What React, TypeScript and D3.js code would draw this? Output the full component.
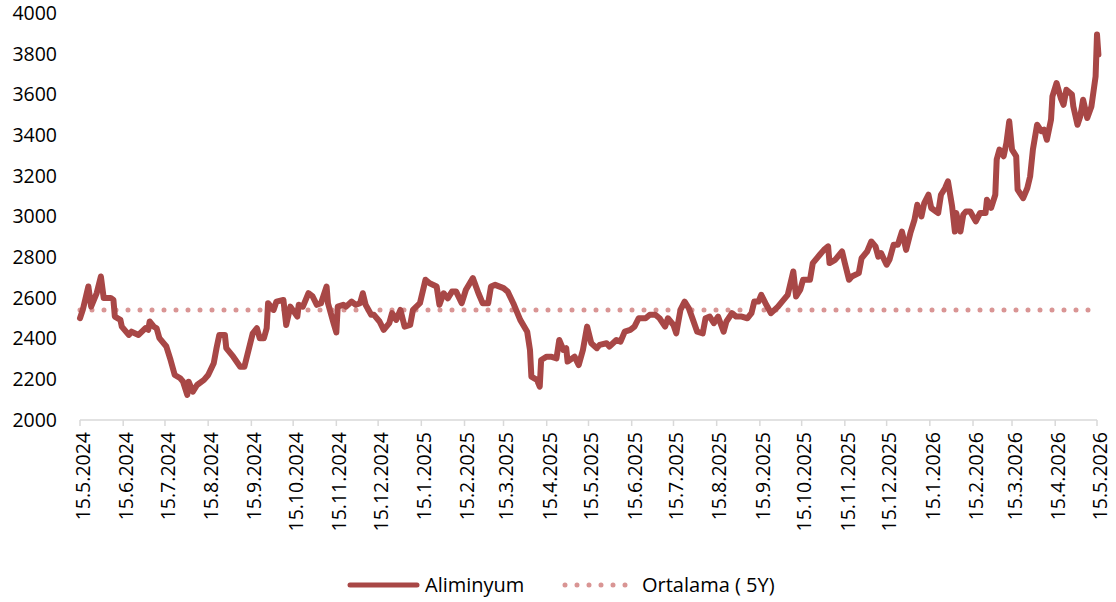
import React from "react";
import * as d3 from "d3";

const START = new Date(2024, 4, 15);
const END = new Date(2026, 4, 15);

// days since 15.5.2024
const dayOffsets = [
  0, 2, 6, 8, 12, 15, 17, 22, 24, 25, 29, 30, 35, 37, 42, 47, 49, 50, 53, 55, 57, 62, 65, 68, 72, 74, 77, 78, 81, 84,
  89, 92, 96, 98, 100, 104, 105, 110, 115, 118, 121, 124, 127, 129, 132, 134, 135, 139, 141, 146, 148, 151, 156, 157,
  160, 164, 167, 170, 173, 177, 178, 182, 184, 185, 189, 191, 195, 198, 201, 203, 205, 209, 211, 215, 218, 222, 224,
  227, 230, 233, 237, 239, 244, 248, 251, 256, 258, 261, 264, 267, 270, 274, 277, 282, 286, 289, 293, 295, 298, 304,
  307, 311, 316, 321, 323, 324, 328, 330, 331, 335, 338, 342, 344, 347, 349, 350, 355, 358, 361, 364, 367, 371, 373,
  378, 380, 385, 388, 391, 395, 398, 401, 406, 409, 413, 416, 420, 422, 426, 428, 431, 434, 437, 440, 443, 447, 449,
  452, 455, 458, 462, 464, 468, 471, 475, 479, 482, 484, 487, 489, 492, 496, 501, 505, 508, 512, 514, 517, 519, 524,
  526, 531, 534, 537, 538, 542, 547, 549, 552, 554, 559, 561, 565, 568, 571, 573, 575, 579, 581, 584, 587, 590, 593,
  596, 599, 601, 604, 606, 609, 611, 616, 618, 621, 623, 626, 628, 629, 632, 634, 636, 639, 643, 646, 650, 651, 654,
  657, 658, 660, 663, 665, 667, 669, 672, 673, 677, 680, 682, 684, 687, 690, 692, 694, 697, 698, 701, 704, 706, 708,
  712, 713, 716, 718, 720, 723, 726, 729, 730, 731,
];

const aluminium = [
  2500, 2541, 2656, 2557, 2624, 2705, 2600, 2600, 2590, 2508, 2492, 2459, 2418, 2434, 2418, 2452, 2443, 2484, 2459,
  2451, 2402, 2361, 2295, 2221, 2205, 2188, 2123, 2188, 2139, 2172, 2197, 2221, 2279, 2353, 2418, 2418, 2353, 2311,
  2262, 2262, 2344, 2426, 2451, 2402, 2402, 2451, 2574, 2541, 2582, 2590, 2467, 2557, 2508, 2566, 2557, 2623, 2607,
  2566, 2574, 2656, 2574, 2476, 2430, 2557, 2566, 2557, 2582, 2566, 2574, 2623, 2566, 2517, 2517, 2484, 2443, 2476,
  2525, 2492, 2541, 2459, 2467, 2541, 2574, 2689, 2672, 2656, 2566, 2623, 2598, 2631, 2631, 2574, 2640, 2697, 2623,
  2574, 2574, 2656, 2664, 2648, 2631, 2574, 2492, 2434, 2344, 2213, 2197, 2164, 2295, 2311, 2311, 2303, 2393, 2344,
  2353, 2287, 2311, 2270, 2344, 2459, 2377, 2353, 2369, 2377, 2361, 2393, 2385, 2434, 2443, 2459, 2500, 2500, 2517,
  2517, 2500, 2459, 2500, 2467, 2426, 2541, 2582, 2549, 2492, 2434, 2426, 2500, 2508, 2476, 2508, 2434, 2484, 2525,
  2508, 2508, 2500, 2525, 2582, 2582, 2615, 2574, 2525, 2557, 2590, 2615, 2730, 2607, 2640, 2689, 2689, 2771, 2812,
  2836, 2853, 2771, 2787, 2828, 2771, 2689, 2705, 2722, 2795, 2828, 2877, 2853, 2803, 2820, 2763, 2787, 2861, 2861,
  2926, 2836, 2918, 2984, 3058, 3000, 3066, 3107, 3042, 3017, 3107, 3140, 3173, 3050, 2926, 3017, 2926, 3009, 3025,
  3025, 2976, 3017, 3017, 3082, 3042, 3107, 3280, 3329, 3296, 3362, 3468, 3329, 3296, 3132, 3090, 3140, 3197, 3329,
  3451, 3419, 3427, 3377, 3476, 3590, 3656, 3582, 3549, 3623, 3599, 3541, 3451, 3492, 3574, 3484, 3541, 3689, 3894,
  3796,
];

const average5Y = 2540;
const yTicks = [2000, 2200, 2400, 2600, 2800, 3000, 3200, 3400, 3600, 3800, 4000];
const seriesNames = ["Aliminyum", "Ortalama ( 5Y)"];

const W = 1116;
const H = 602;
const LINE_COLOR = "#A84746";
const AVG_COLOR = "#D99594";
const FONT = "'Open Sans', sans-serif";

export default function App() {
  const x = d3.scaleTime().domain([START, END]).range([80, 1097]);
  const y = d3.scaleLinear().domain([2000, 4000]).range([420, 13]);

  const data = dayOffsets.map((d, i) => ({ date: d3.timeDay.offset(START, d), v: aluminium[i] }));
  const line = d3
    .line<{ date: Date; v: number }>()
    .x((d) => x(d.date))
    .y((d) => y(d.v));

  const ticks = d3.range(0, 25).map((i) => d3.timeMonth.offset(START, i));
  const fmt = (d: Date) => `${d.getDate()}.${d.getMonth() + 1}.${d.getFullYear()}`;

  return (
    <svg width={W} height={H} style={{ position: "absolute", left: 0, top: 0, background: "#fff" }}>
      {yTicks.map((t) => (
        <text key={t} x={57} y={y(t)} dy="0.35em" textAnchor="end" fontFamily={FONT} fontSize={19.5} fill="#000">
          {t}
        </text>
      ))}
      <line x1={x(START)} x2={x(END)} y1={420} y2={420} stroke="#d9d9d9" strokeWidth={1.5} />
      {ticks.map((t, i) => (
        <g key={i}>
          <line x1={x(t)} x2={x(t)} y1={420} y2={426} stroke="#d9d9d9" strokeWidth={1.5} />
          <text
            transform={`translate(${x(t) + 3},432) rotate(-90)`}
            dy="0.35em"
            textAnchor="end"
            fontFamily={FONT}
            fontSize={19.5}
            fill="#000"
          >
            {fmt(t)}
          </text>
        </g>
      ))}
      <line
        x1={x(START)}
        x2={x(END)}
        y1={y(average5Y)}
        y2={y(average5Y)}
        stroke={AVG_COLOR}
        strokeWidth={5}
        strokeDasharray="0 12"
        strokeLinecap="round"
      />
      <path d={line(data) || ""} fill="none" stroke={LINE_COLOR} strokeWidth={6} strokeLinejoin="round" strokeLinecap="round" />
      <line x1={350} x2={417} y1={585} y2={585} stroke={LINE_COLOR} strokeWidth={5} strokeLinecap="round" />
      <text x={425} y={585} dy="0.35em" fontFamily={FONT} fontSize={20} fill="#000">
        {seriesNames[0]}
      </text>
      <line x1={565} x2={626} y1={585} y2={585} stroke={AVG_COLOR} strokeWidth={5} strokeDasharray="0 12" strokeLinecap="round" />
      <text x={642} y={585} dy="0.35em" fontFamily={FONT} fontSize={20} fill="#000">
        {seriesNames[1]}
      </text>
    </svg>
  );
}
